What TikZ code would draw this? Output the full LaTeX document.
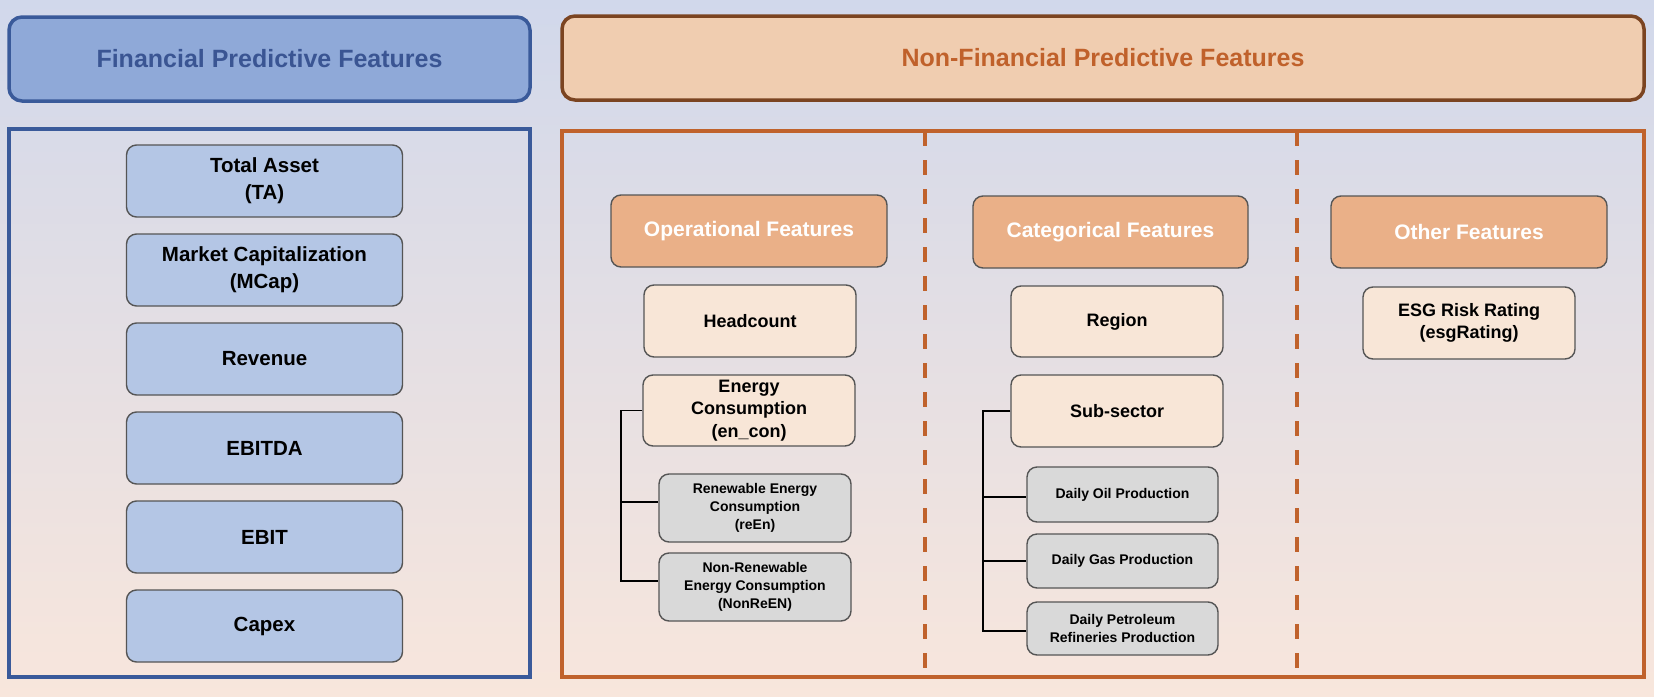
\documentclass[tikz,border=0pt]{standalone}
\usepackage{fontspec}
\setmainfont{Liberation Sans}
\usetikzlibrary{calc}

\definecolor{bgtop}{HTML}{D1D8EB}
\definecolor{bgbottom}{HTML}{F8E6DC}
\definecolor{finfill}{HTML}{8FA9D8}
\definecolor{finline}{HTML}{3A5A9A}
\definecolor{fintext}{HTML}{3A5593}
\definecolor{boxblue}{HTML}{B4C6E5}
\definecolor{nffill}{HTML}{F0CDB0}
\definecolor{nfline}{HTML}{7B4421}
\definecolor{nftext}{HTML}{C0612B}
\definecolor{nfframe}{HTML}{C0622C}
\definecolor{orangefill}{HTML}{EAB088}
\definecolor{creamfill}{HTML}{F8E6D7}
\definecolor{greyfill}{HTML}{D9D9D9}
\definecolor{boxline}{HTML}{555555}

\tikzset{
  header/.style={rounded corners=13pt, line width=3.5pt, inner sep=0pt,
    font=\fontsize{25}{29}\selectfont\bfseries},
  frame/.style={line width=3.2pt},
  divider/.style={draw=nfframe, line width=3.6pt, dash pattern=on 15pt off 14pt},
  box/.style={draw=boxline, line width=1.4pt, rounded corners=10pt,
    align=center, inner sep=0pt},
  finbox/.style={box, fill=boxblue, minimum width=276pt, minimum height=72pt,
    font=\fontsize{20.5}{27}\selectfont\bfseries},
  catbox/.style={box, fill=orangefill, minimum width=276pt, minimum height=72pt,
    text=white, font=\fontsize{21}{24}\selectfont\bfseries},
  itembox/.style={box, fill=creamfill, minimum width=212pt, minimum height=72pt,
    font=\fontsize{18}{22.5}\selectfont\bfseries},
  subbox/.style={box, fill=greyfill, minimum width=192pt,
    font=\fontsize{14}{18}\selectfont\bfseries},
  tree/.style={draw=black, line width=1.5pt}
}

\begin{document}
\begin{tikzpicture}[x=1pt, y=-1pt]
  % page background
  \shade[top color=bgtop, bottom color=bgbottom] (0,0) rectangle (1654,696);
  \useasboundingbox (0,0) rectangle (1654,696);

  % section headers
  \node[header, draw=finline, fill=finfill, text=fintext,
        minimum width=521pt, minimum height=84pt] (finhead) at (269.5,59) {Financial Predictive Features};
  \node[header, draw=nfline, fill=nffill, text=nftext,
        minimum width=1082pt, minimum height=84pt] (nfhead) at (1103,58) {Non-Financial Predictive Features};

  % section frames
  \draw[frame, draw=finline] (9,129) rectangle (530,677);
  \draw[frame, draw=nfframe] (562,131) rectangle (1644,677);
  \draw[divider] (925,131) -- (925,677);
  \draw[divider] (1297,131) -- (1297,677);

  % financial features
  \node[finbox] (ta)     at (264.5,181) {Total Asset\\(TA)};
  \node[finbox] (mcap)   at (264.5,270) {Market Capitalization\\(MCap)};
  \node[finbox] (rev)    at (264.5,359) {Revenue};
  \node[finbox] (ebitda) at (264.5,448) {EBITDA};
  \node[finbox] (ebit)   at (264.5,537) {EBIT};
  \node[finbox] (capex)  at (264.5,626) {Capex};

  % operational features
  \node[catbox] (oper) at (749,231) {Operational Features};
  \node[itembox] (head) at (750,321) {Headcount};
  \node[itembox, minimum height=71pt] (encon) at (749,410.5) {Energy\\Consumption\\(en\_con)};
  \node[subbox, minimum height=68pt] (reen) at (755,508) {Renewable Energy\\Consumption\\(reEn)};
  \node[subbox, minimum height=68pt] (nonreen) at (755,587) {Non-Renewable\\Energy Consumption\\(NonReEN)};
  \coordinate (optrunk) at (621,410.5);
  \draw[tree] (encon.west) -- (optrunk) |- ([yshift=6pt]nonreen.west);
  \draw[tree] (optrunk |- 0,502) -- (reen.west |- 0,502);

  % categorical features
  \node[catbox, minimum width=275pt] (categ) at (1110.5,232) {Categorical Features};
  \node[itembox, minimum height=71pt] (region) at (1117,321.5) {Region};
  \node[itembox] (subsec) at (1117,411) {Sub-sector};
  \node[subbox, minimum width=191pt, minimum height=55pt] (oil) at (1122.5,494.5) {Daily Oil Production};
  \node[subbox, minimum width=191pt, minimum height=54pt] (gas) at (1122.5,561) {Daily Gas Production};
  \node[subbox, minimum width=191pt, minimum height=53pt] (petro) at (1122.5,628.5) {Daily Petroleum\\Refineries Production};
  \coordinate (cattrunk) at (983,411);
  \draw[tree] (subsec.west) -- (cattrunk) |- ([yshift=-2.5pt]petro.west);
  \draw[tree] (cattrunk |- 0,497) -- (oil.west |- 0,497);
  \draw[tree] (cattrunk |- gas.west) -- (gas.west);

  % other features
  \node[catbox] (other) at (1469,232) {Other Features};
  \node[itembox] (esg) at (1469,323) {ESG Risk Rating\\(esgRating)};
\end{tikzpicture}
\end{document}
